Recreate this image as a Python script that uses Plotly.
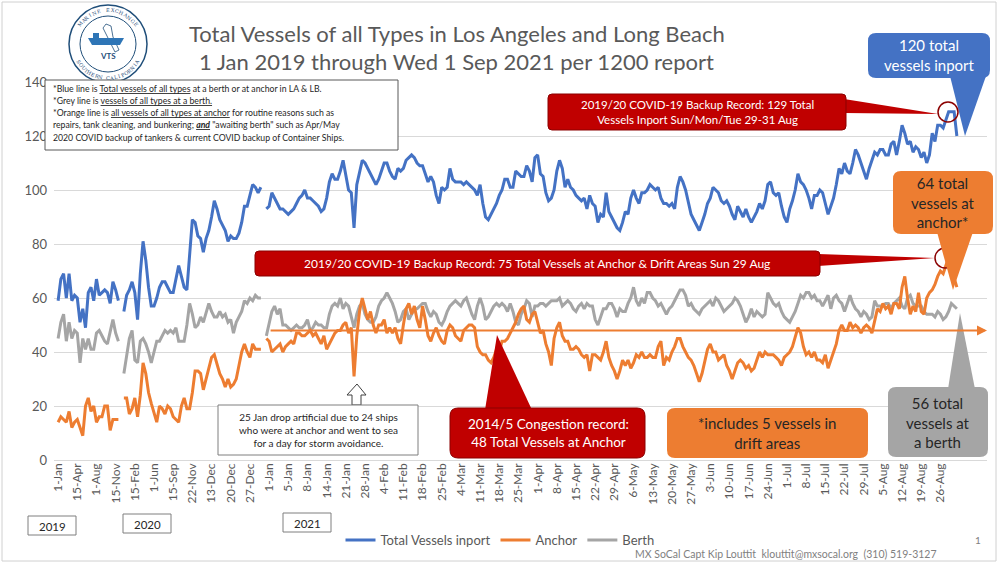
import math
import plotly.graph_objects as go

# ---- data -------------------------------------------------------------
# one tick label every 7 samples
tick_labels = ["1-Jan", "15-Apr", "1-Aug", "15-Nov", "15-Feb", "1-Jun", "15-Sep",
               "22-Nov", "13-Dec", "20-Dec", "27-Dec", "1-Jan", "5-Jan", "8-Jan",
               "14-Jan", "21-Jan", "28-Jan", "4-Feb", "11-Feb", "18-Feb", "25-Feb",
               "4-Mar", "11-Mar", "18-Mar", "25-Mar", "1-Apr", "8-Apr", "15-Apr",
               "22-Apr", "29-Apr", "6-May", "13-May", "20-May", "27-May", "3-Jun",
               "10-Jun", "17-Jun", "24-Jun", "1-Jul", "8-Jul", "15-Jul", "22-Jul",
               "29-Jul", "5-Aug", "12-Aug", "19-Aug", "26-Aug"]
year_labels = ["2019", "2020", "2021"]

blue_2019 = [59, 67, 69, 60, 69, 59, 61, 60, 51, 56, 49, 62, 64, 59, 67, 61, 62, 63, 62, 58,
             66, 63, 59]
orange_2019 = [14, 16, 15, 14, 18, 12, 14, 15, 12, 9, 20, 23, 18, 20, 14, 16, 16, 20, 20, 11,
               15, 15, 15]
grey_2019 = [45, 51, 54, 44, 51, 45, 48, 47, 36, 45, 41, 45, 41, 41, 47, 48, 46, 44, 43, 47,
             52, 47, 44]

blue_2020 = [55, 61, 63, 66, 62, 52, 69, 81, 74, 64,
             57, 57, 60, 64, 66, 66, 64, 62, 62, 67,
             72, 68, 64, 63, 77, 89, 88, 83, 82, 77,
             82, 85, 90, 96, 93, 89, 87, 85, 81, 83,
             82, 82, 84, 88, 94, 94, 98, 102, 101, 99,
             101]
orange_2020 = [23, 23, 17, 19, 23, 16, 24, 36, 32, 25,
               21, 17, 14, 20, 19, 17, 20, 19, 16, 15,
               14, 20, 23, 19, 19, 25, 33, 33, 32, 26,
               30, 35, 38, 39, 35, 32, 30, 27, 30, 27,
               28, 30, 35, 40, 43, 40, 38, 43, 41, 41,
               41]
grey_2020 = [32, 38, 45, 48, 37, 36, 44, 45, 43, 40,
             36, 40, 44, 44, 46, 48, 47, 48, 47, 49,
             44, 44, 44, 50, 58, 54, 49, 50, 53, 51,
             55, 58, 55, 53, 53, 55, 53, 54, 51, 52,
             47, 51, 53, 55, 59, 58, 60, 59, 61, 60,
             60]

blue_2021 = [93, 94, 99, 97, 95, 93, 93, 92, 91, 92,
             93, 95, 97, 98, 100, 97, 97, 96, 95, 94,
             92, 93, 97, 103, 106, 104, 104, 107, 111, 106,
             100, 99, 86, 102, 106, 111, 110, 108, 106, 104,
             102, 104, 107, 110, 110, 107, 105, 104, 108, 107,
             108, 111, 112, 113, 112, 110, 109, 109, 106, 103,
             105, 103, 98, 95, 101, 100, 101, 108, 104, 103,
             103, 103, 102, 103, 102, 101, 100, 98, 102, 95,
             90, 89, 91, 93, 95,
             98, 100, 104, 104, 101, 101, 107, 106, 105, 105,
             109, 107, 103, 112, 113, 106, 105, 99, 96, 97,
             100, 107, 111, 108, 101, 104, 101, 100, 98, 97,
             96, 97, 93, 98, 95, 94, 88, 91, 90, 99,
             92, 90, 88, 86, 85, 88, 92, 91, 97, 100,
             97, 95, 99, 99, 100, 102, 101, 100, 101, 97,
             95, 95, 94, 95, 93, 101, 105, 103, 100, 95,
             91, 89, 87, 85, 88, 91, 95, 97, 101, 100,
             99, 96, 95, 96, 94, 91, 89, 94,
             92, 90, 93, 90,
             88, 90, 92, 95, 93, 96, 102, 103, 99, 98,
             99, 94, 90, 88, 93, 96, 100, 106, 103, 102,
             100, 97, 93, 98, 98, 100, 99, 95, 91, 94,
             97, 102, 108, 106, 110, 107, 106, 110, 115, 113,
             110, 107, 104, 108, 111, 114, 113, 115, 115, 113,
             113, 117, 118, 113, 118, 124, 121, 117, 118, 114,
             116, 115, 112, 114, 110, 113, 121, 118, 124, 124,
             123, 126, 129, 129, 129, 120]
orange_2021 = [45, 44, 40, 41, 42, 43, 40, 42, 43, 44,
               43, 47, 47, 46, 46, 47, 48, 46, 47, 45,
               43, 46, 41, 43, 45, 47, 48, 48, 50, 51,
               47, 49, 31, 46, 55, 60, 56, 52, 55, 50,
               47, 50, 50, 52, 47, 49, 47, 49, 45, 43,
               50, 56, 58, 54, 57, 52, 49, 57, 52, 46,
               44, 47, 49, 46, 44, 43, 48, 50, 49, 46,
               45, 44, 48, 49, 50, 50, 49, 42, 40, 39,
               39, 37, 36, 38, 41,
               40, 44, 44, 45, 47, 49, 51, 54, 56, 57,
               52, 51, 54, 55, 51, 47, 48, 43, 40, 35,
               45, 49, 51, 46, 44, 44, 41, 41, 42, 41,
               39, 38, 39, 33, 39, 39, 38, 37, 40, 44,
               38, 35, 33, 30, 33, 37, 35, 37, 34, 36,
               39, 38, 40, 38, 38, 39, 38, 38, 42, 44,
               35, 38, 37, 40, 42, 45, 45, 42, 40, 38,
               37, 35, 32, 29, 32, 36, 41, 43, 40, 40,
               37, 38, 39, 35, 33, 30, 33, 36,
               37, 36, 34, 35,
               33, 34, 37, 40, 38, 40, 39, 39, 39, 38,
               37, 35, 38, 39, 40, 42, 46, 49, 47, 42,
               39, 40, 38, 40, 37, 37, 36, 39, 34, 37,
               40, 43, 48, 50, 48, 48, 51, 49, 50, 49,
               47, 49, 50, 49, 47, 51, 56, 55, 58, 56,
               57, 54, 58, 58, 56, 64, 68, 60, 54, 57,
               55, 62, 55, 54, 60, 62, 63, 65, 68, 70,
               69, 72, 75, 71, 67, 64]
grey_2021 = [46, 50, 55, 57, 54, 56, 50, 50, 49, 48,
             49, 50, 49, 49, 50, 52, 48, 49, 51, 50,
             50, 49, 49, 54, 57, 58, 57, 60, 56, 58,
             57, 53, 49, 54, 57, 58, 54, 52, 51, 51,
             53, 57, 59, 60, 62, 60, 58, 55, 51, 52,
             55, 56, 52, 54, 56, 56, 57, 58, 58, 55,
             53, 55, 54, 51, 50, 52, 55, 57, 58, 59,
             58, 57, 59, 60, 57, 54, 52, 57, 60, 57,
             52, 53, 55, 57, 58,
             57, 58, 57, 55, 58, 55, 51, 50, 54, 56,
             59, 58, 53, 57, 57, 58, 58, 57, 58, 59,
             59, 59, 60, 57, 58, 59, 58, 56, 55, 57,
             58, 56, 58, 57, 57, 52, 50, 53, 56, 56,
             58, 58, 56, 53, 56, 55, 55, 58, 60, 64,
             59, 57, 60, 58, 62, 62, 60, 59, 57, 58,
             56, 54, 56, 57, 59, 61, 63, 63, 61, 57,
             58, 56, 55, 54, 56, 57, 58, 59, 57, 60,
             59, 57, 55, 56, 57, 58, 60, 59,
             57, 54, 51, 53,
             56, 53, 55, 54, 53, 54, 62, 60, 58, 57,
             58, 55, 53, 52, 51, 53, 55, 58, 61, 60,
             62, 62, 60, 61, 59, 59, 57, 59, 61, 56,
             60, 61, 59, 58, 55, 58, 61, 58, 56, 55,
             53, 55, 54, 52, 53, 59, 57, 57, 57, 58,
             58, 56, 58, 59, 60, 57, 56, 60, 61, 58,
             57, 57, 57, 55, 54, 54, 54, 53, 55, 54,
             52, 53, 55, 58, 57, 56]

REF_2014 = 48          # 2014/5 congestion record at anchor

assert len(blue_2021) == len(orange_2021) == len(grey_2021) == 253

blue = blue_2019 + [None] + blue_2020 + [None] + blue_2021
orange = orange_2019 + [None] + orange_2020 + [None] + orange_2021
grey = grey_2019 + [None] + grey_2020 + [None] + grey_2021
x = list(range(len(blue)))
ref_start = len(blue_2019) + len(blue_2020) + 3

BLUE, ORANGE, GREY, RED = "#4472C4", "#ED7D31", "#A5A5A5", "#C00000"
TXT = "#595959"
FONT = "Lato"

# ---- pixel helpers for the decorations --------------------------------
L, R, T, B = 54, 13, 82, 103
W, H = 1000 - L - R, 563 - T - B


def px(v):
    return (v - L) / W


def py(v):
    return (T + H - v) / H


def rbox(x0, y0, x1, y1, r=0):
    if r == 0:
        pts = [(x0, y0), (x1, y0), (x1, y1), (x0, y1)]
        return "M " + " L ".join(f"{px(a)},{py(b)}" for a, b in pts) + " Z"
    p = lambda a, b: f"{px(a)},{py(b)}"
    return (f"M {p(x0 + r, y0)} L {p(x1 - r, y0)} Q {p(x1, y0)} {p(x1, y0 + r)} "
            f"L {p(x1, y1 - r)} Q {p(x1, y1)} {p(x1 - r, y1)} L {p(x0 + r, y1)} "
            f"Q {p(x0, y1)} {p(x0, y1 - r)} L {p(x0, y0 + r)} Q {p(x0, y0)} {p(x0 + r, y0)} Z")


def poly(pts):
    return "M " + " L ".join(f"{px(a)},{py(b)}" for a, b in pts) + " Z"


shapes = []
annots = []


def add_path(path, fill, line="rgba(0,0,0,0)", lw=1):
    shapes.append(dict(type="path", path=path, xref="paper", yref="paper",
                       fillcolor=fill, line=dict(color=line, width=lw)))


def add_text(xp, yp, text, size, color=TXT, xanchor="center", align="center",
             family=FONT, angle=0):
    annots.append(dict(x=px(xp), y=py(yp), xref="paper", yref="paper", text=text,
                       showarrow=False, xanchor=xanchor, yanchor="middle", align=align,
                       textangle=angle, font=dict(family=family, size=size, color=color)))


def add_circle(cx, cy, r, line, lw=1.5, fill="rgba(0,0,0,0)"):
    shapes.append(dict(type="circle", xref="paper", yref="paper",
                       x0=px(cx - r), x1=px(cx + r), y0=py(cy + r), y1=py(cy - r),
                       line=dict(color=line, width=lw), fillcolor=fill))


def ring_text(cx, cy, r, text, a0, a1, top=True):
    # letters spread along an arc, angles in degrees (maths convention)
    n = len(text)
    for i, ch in enumerate(text):
        if ch == " ":
            continue
        a = a0 + (a1 - a0) * i / (n - 1)
        t = math.radians(a)
        ang = 90 - a if top else 270 - a
        add_text(cx + r * math.cos(t), cy - r * math.sin(t), ch, 5, "#1F4E79",
                 family="DejaVu Serif", angle=ang)


# ---- figure -----------------------------------------------------------
fig = go.Figure()
fig.add_trace(go.Scatter(x=x, y=grey, mode="lines", name="Berth", legendrank=3,
                         line=dict(color=GREY, width=3)))
fig.add_trace(go.Scatter(x=x, y=orange, mode="lines", name="Anchor", legendrank=2,
                         line=dict(color=ORANGE, width=3)))
fig.add_trace(go.Scatter(x=x, y=blue, mode="lines", name="Total Vessels inport", legendrank=1,
                         line=dict(color=BLUE, width=3)))

# 2014/5 record reference line with arrow
annots.append(dict(x=339, y=REF_2014, ax=ref_start, ay=REF_2014, xref="x", yref="y",
                   axref="x", ayref="y", text="", showarrow=True, arrowhead=2,
                   arrowsize=1, arrowwidth=2, arrowcolor=ORANGE))

# outer frame
add_path(rbox(2, 2, 996, 561), "rgba(0,0,0,0)", "#D0D0D0", 1)

# logo
add_circle(108, 44, 39, "#1F4E79", 1.5, "white")
add_circle(108, 44, 28, "#1F4E79", 1)
ring_text(108, 44, 34, "MARINE EXCHANGE", 145, 35, top=True)
ring_text(108, 44, 34, "SOUTHERN CALIFORNIA", 212, 328, top=False)
add_path(poly([(106, 24), (111, 26), (113, 37), (119, 50), (115, 52), (108, 38), (103, 28)]),
         "white", "#1F4E79", 0.8)
add_path(poly([(88, 38), (124, 38), (120, 45), (92, 45)]), "#2E75B6")
add_path(poly([(93, 38), (93, 33), (99, 33), (99, 38)]), "#2E75B6")
add_text(108, 56, "<b>VTS</b>", 8, "#1F4E79")

# titles
add_text(457, 33, "Total Vessels of all Types in Los Angeles and Long Beach", 22)
add_text(456, 62, "1 Jan 2019 through Wed 1 Sep 2021 per 1200 report", 22)

# notes box top left
add_path(rbox(45, 80, 398, 150), "white", "#595959", 1)
note_lines = [
    "*Blue line is <u>Total vessels of all types</u> at a berth or at anchor in LA &amp; LB.",
    "*Grey line is <u>vessels of all types at a berth.</u>",
    "*Orange line is <u>all vessels of all types at anchor</u> for routine reasons such as",
    "repairs, tank cleaning, and bunkering; <b><i><u>and</u></i></b> \"awaiting berth\" such as Apr/May",
    "2020 COVID backup of tankers &amp; current COVID backup of Container Ships.",
]
for i, ln in enumerate(note_lines):
    add_text(51, 89 + 12 * i, ln, 8.7, "#262626", xanchor="left", align="left")

# blue callout
add_path(poly([(950, 76), (986, 76), (965, 136)]), BLUE)
add_path(rbox(868, 33, 990, 78, 8), BLUE)
add_text(929, 55, "120 total<br>vessels inport", 15, "white")

# red record callout 1 (total inport)
add_path(poly([(844, 99), (844, 113), (938, 114)]), RED)
add_path(rbox(548, 94, 846, 130, 4), RED, "#8B0000", 1)
add_text(697, 112, "2019/20 COVID-19 Backup Record: 129 Total<br>Vessels Inport Sun/Mon/Tue 29-31 Aug",
         11.5, "white")
add_circle(948, 112, 10, "#8B0000", 1.5)

# red record callout 2 (anchor)
add_path(poly([(818, 254), (818, 266), (935, 258)]), RED)
add_path(rbox(255, 251, 820, 276, 4), RED, "#8B0000", 1)
add_text(537, 263, "2019/20 COVID-19 Backup Record: 75 Total Vessels at Anchor &amp; Drift Areas Sun 29 Aug",
         12, "white")
add_circle(945, 258, 10, "#8B0000", 1.5)

# orange anchor callout
add_path(poly([(937, 232), (973, 232), (953, 290)]), ORANGE)
add_path(rbox(893, 171, 993, 234, 8), ORANGE)
add_text(943, 202, "64 total<br>vessels at<br>anchor*", 15, "#262626")

# grey berth callout
add_path(poly([(948, 389), (975, 389), (960, 313)]), GREY)
add_path(rbox(888, 387, 988, 457, 8), GREY)
add_text(938, 422, "56 total<br>vessels at<br>a berth", 15, "#262626")

# 2014/5 congestion callout
add_path(poly([(485, 410), (532, 410), (497, 335)]), RED)
add_path(rbox(450, 408, 645, 458, 8), RED, "#8B0000", 1)
add_text(548, 433, "2014/5 Congestion record:<br>48 Total Vessels at Anchor", 13.5, "white")

# drift areas note
add_path(rbox(667, 408, 868, 458, 8), ORANGE)
add_text(767, 433, "*includes 5 vessels in<br>drift areas", 15, "#262626")

# storm note + hollow arrow
add_path(poly([(357, 384), (347, 395), (352, 395), (352, 405), (361, 405), (361, 395), (366, 395)]),
         "white", "#404040", 1)
add_path(rbox(218, 405, 418, 455), "white", "#7F7F7F", 1)
add_text(318, 430, "25 Jan drop artificial due to 24 ships<br>who were at anchor and went to sea<br>"
         "for a day for storm avoidance.", 10, "#262626")

# year boxes
for (x0, y0), yr in zip([(28, 516), (123, 514), (283, 513)], year_labels):
    add_path(rbox(x0, y0, x0 + 48, y0 + 19), "white", "#7F7F7F", 1)
    add_text(x0 + 24, y0 + 10, yr, 11.5, "#262626")

# footer
add_text(786, 554, "MX SoCal Capt Kip Louttit\u00a0\u00a0klouttit@mxsocal.org\u00a0\u00a0(310) 519-3127",
         10.5, "#7F7F7F")
add_text(978, 540, "1", 10, "#7F7F7F")

fig.update_layout(
    width=1000, height=563,
    margin=dict(l=L, r=R, t=T, b=B, autoexpand=False),
    paper_bgcolor="white", plot_bgcolor="white",
    font=dict(family=FONT, color=TXT),
    showlegend=True,
    legend=dict(orientation="h", x=px(500), xanchor="center", y=py(540), yanchor="middle",
                font=dict(size=13, color=TXT), bgcolor="rgba(0,0,0,0)"),
    shapes=shapes,
    annotations=annots,
)
fig.update_xaxes(range=[-1.5, 339], tickmode="array",
                 tickvals=[7 * k for k in range(len(tick_labels))], ticktext=tick_labels,
                 tickangle=-90, tickfont=dict(size=12, color=TXT), showgrid=False,
                 showline=False, zeroline=False, automargin=False)
fig.update_yaxes(range=[0, 140], dtick=20, gridcolor="#D9D9D9", gridwidth=1,
                 zeroline=True, zerolinecolor="#D9D9D9", zerolinewidth=1,
                 tickfont=dict(size=13, color=TXT), ticklabelstandoff=6, showline=False,
                 automargin=False)

fig.write_html("out.html", config={"displayModeBar": False},
               post_script="document.body.style.margin='0';")
